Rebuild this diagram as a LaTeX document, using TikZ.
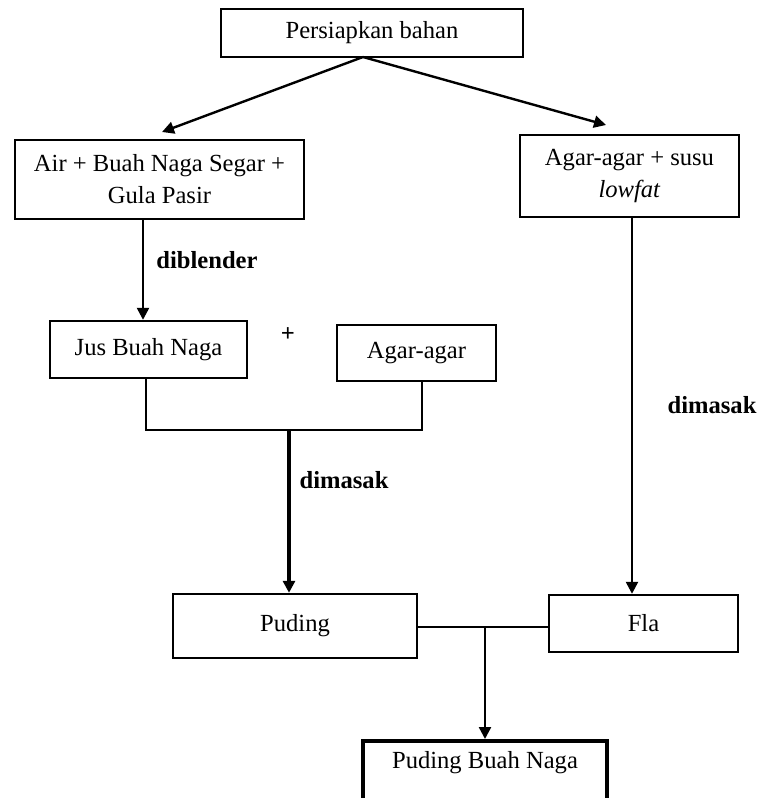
\documentclass[tikz,border=0pt]{standalone}
\usepackage{fontspec}
\setmainfont{Liberation Serif}
\usetikzlibrary{arrows.meta,calc}
\newcommand\diagfont{\fontsize{12.3}{16}\selectfont}
\begin{document}
\begin{tikzpicture}[x=0.5pt,y=-0.5pt,
  box/.style={draw, line width=1.2pt, inner sep=0pt, align=center, font=\diagfont},
  arr/.style={line width=1.2pt, -{Triangle[length=6pt,width=6pt]}},
  lbl/.style={font=\diagfont\bfseries},
  conn/.style={line width=1.2pt}]
\useasboundingbox (0,0) rectangle (759,798);
% boxes
\node[box, minimum width=151pt, minimum height=24pt] (prep) at (372,33) {Persiapkan bahan};
\node[box, minimum width=144.5pt, minimum height=39.5pt] (air) at (159.5,179.5) {Air + Buah Naga Segar +\\Gula Pasir};
\node[box, minimum width=109.5pt, minimum height=41pt] (susu) at (629.5,176) {Agar-agar + susu\\\textit{lowfat}};
\node[box, minimum width=98.5pt, minimum height=28.5pt] (jus) at (148.5,349.5) {Jus Buah Naga};
\node[box, minimum width=79.5pt, minimum height=28pt] (agar) at (416.5,353) {Agar-agar};
\node[box, minimum width=122pt, minimum height=32pt] (puding) at (295,626) {Puding};
\node[box, minimum width=94.5pt, minimum height=28.5pt] (fla) at (643.5,623.5) {Fla};
\node[box, line width=1.8pt, minimum width=122pt, minimum height=33pt, anchor=north] (pbn) at (485,739) {};
\node[font=\diagfont] (pbntext) at (485,763) {Puding Buah Naga};
% labels
\node[lbl] (dibl) at (207,260) {diblender};
\node[lbl] (plus) at (288,335) {+};
\node[lbl] (dim1) at (344,480) {dimasak};
\node[lbl] (dim2) at (712,405) {dimasak};
% connectors
\coordinate (apex) at (363,57);
\coordinate (tipL) at (162,132);
\coordinate (tipR) at (606,125);
\draw[arr] (apex) -- (tipL);
\draw[arr] (apex) -- (tipR);
\coordinate (xa) at (143,0);
\draw[arr] (air.south -| xa) -- (jus.north -| xa);
\coordinate (xj) at (146,0);
\coordinate (xg) at (422,0);
\coordinate (jn) at (289,430);
\draw[conn] (jus.south -| xj) |- (jn) -| (agar.south -| xg);
\draw[arr, line width=1.6pt] (jn) -- (puding.north -| jn);
\coordinate (xs) at (632,0);
\draw[arr] (susu.south -| xs) -- (fla.north -| xs);
\coordinate (jn2) at (485,627);
\draw[conn] (puding.east |- jn2) -- (fla.west |- jn2);
\draw[arr] (jn2) -- (pbn.north);
\end{tikzpicture}
\end{document}
